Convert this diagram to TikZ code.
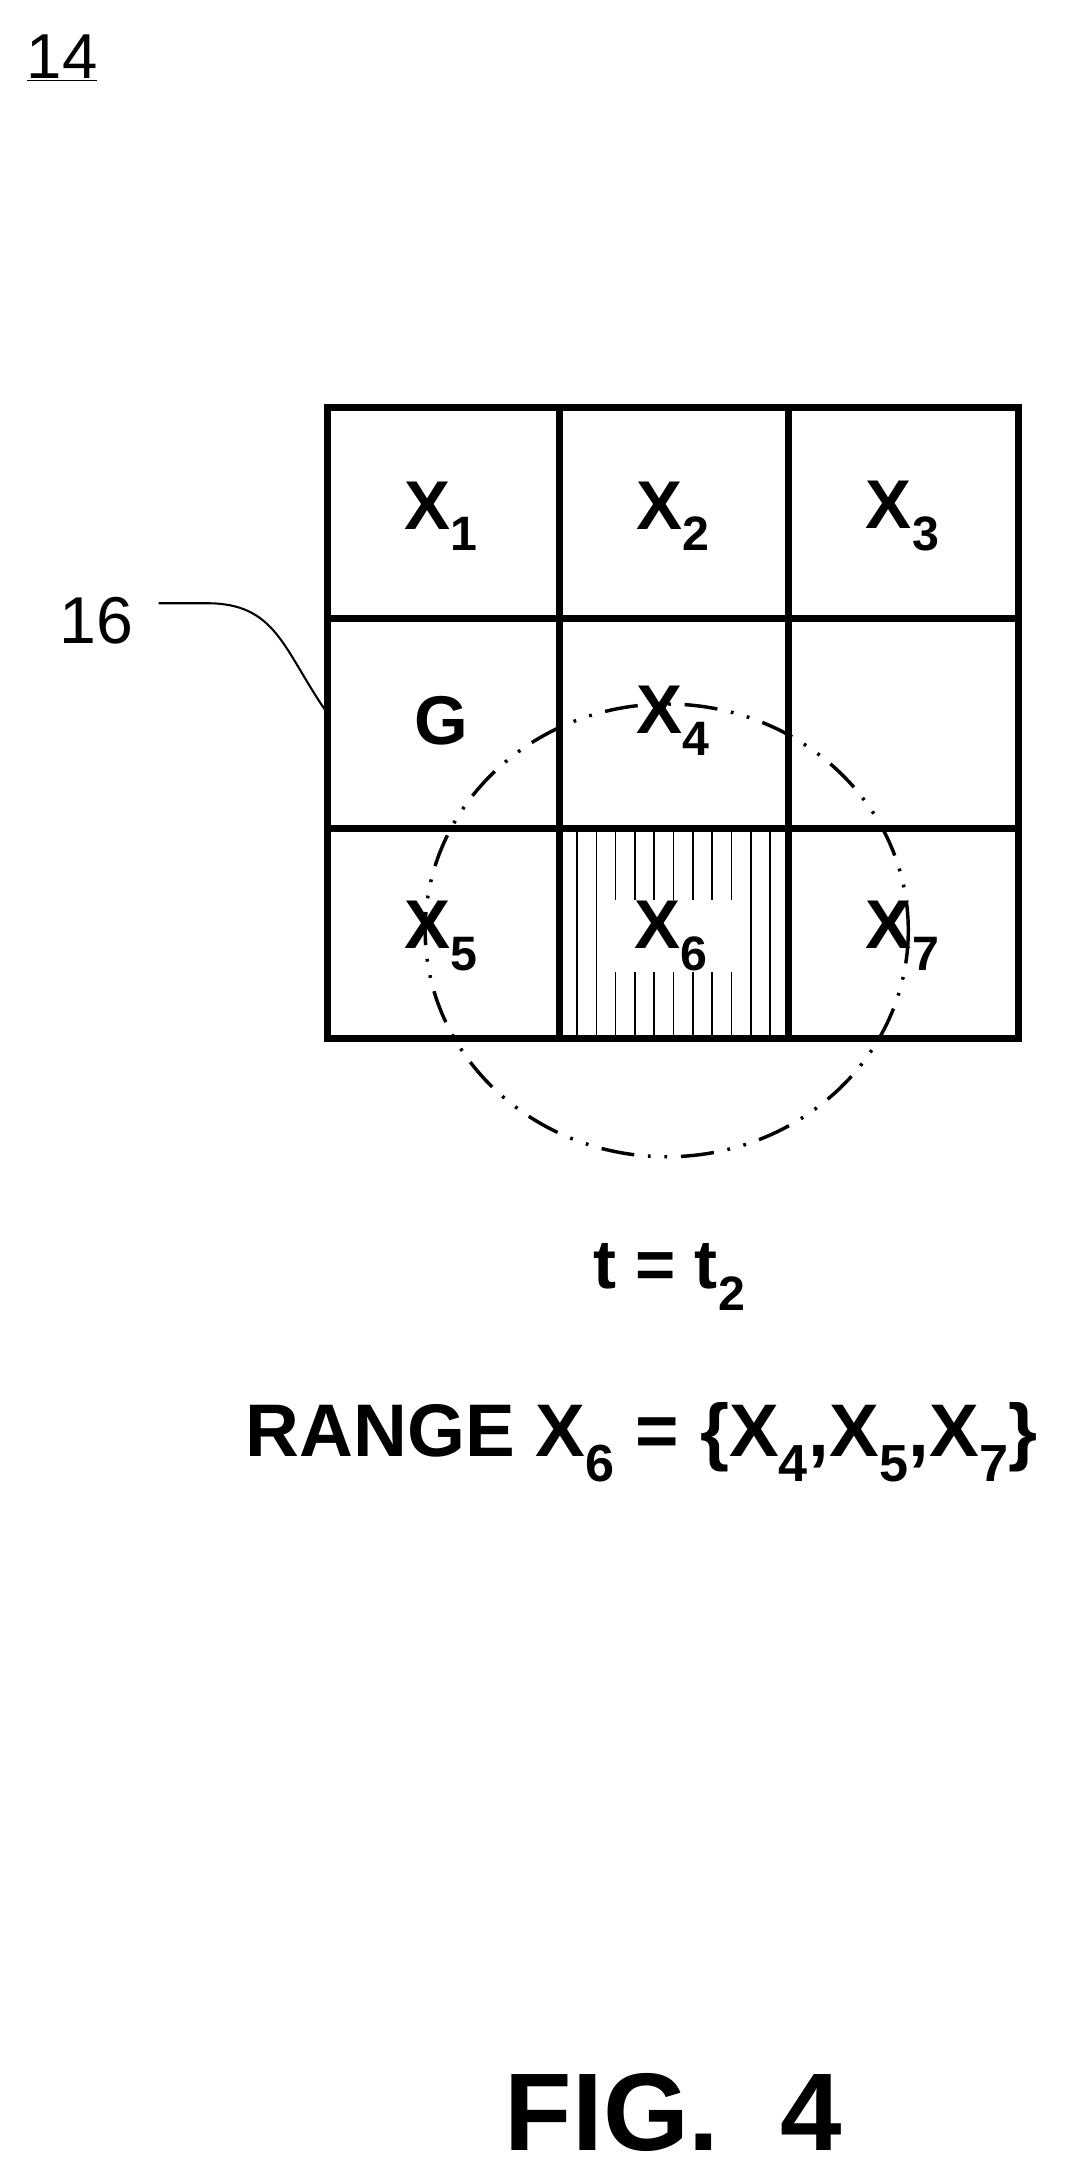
\documentclass[tikz,border=0pt]{standalone}
\usepackage{fontspec}
\setmainfont{Liberation Sans}
\begin{document}
\begin{tikzpicture}[x=1pt,y=-1pt,
  lbl/.style={font=\fontsize{50}{54}\selectfont\bfseries, inner sep=1pt},
  gridline/.style={line width=5pt}]
\useasboundingbox (0,0) rectangle (775,1580);
% hatch in X6
\foreach \xx in {418,432,446,460,474,488,502,516,530,544,558} \draw[line width=1.2pt] (\xx,600) -- (\xx,752);
\node[fill=white, minimum width=92pt, minimum height=52pt] (wb) at (484,678) {};
% grid
\draw[gridline] (237,295) rectangle (738,752);
\foreach \xx in {405,571} \draw[gridline] (\xx,295) -- (\xx,752);
\foreach \yy in {448,600} \draw[gridline] (237,\yy) -- (738,\yy);
% labels
\node[lbl] (x1) at (320,374) {X\textsubscript{1}};
\node[lbl] (x2) at (488,374) {X\textsubscript{2}};
\node[lbl] (x3) at (654,374) {X\textsubscript{3}};
\node[lbl] (g) at (320,522) {G};
\node[lbl] (x4) at (488,522) {X\textsubscript{4}};
\node[lbl] (x5) at (320,678) {X\textsubscript{5}};
\node[lbl] (x6) at (486,678) {X\textsubscript{6}};
\node[lbl] (x7) at (654,678) {X\textsubscript{7}};
% dash-dot-dot circle
\draw[line width=2.5pt, dash pattern=on 24pt off 10pt on 2pt off 10pt on 2pt off 10pt] (483,674) ellipse (175 and 164);
% 14 and 16
\node[font=\fontsize{46}{50}\selectfont, inner sep=0pt] (n14) at (45,42) {\underline{14}};
\node[font=\fontsize{48}{52}\selectfont, inner sep=0pt] (n16) at (70,450) {16};
\coordinate (c16) at (236,515);
\draw[line width=1.5pt] (115,437) -- (150,437) .. controls (200,437) and (205,470) .. (c16);
% texts
\node[font=\fontsize{50}{54}\selectfont\bfseries] (t) at (485,925) {t = t\textsubscript{2}};
\node[font=\fontsize{54}{58}\selectfont\bfseries] (rng) at (465,1045) {RANGE X\textsubscript{6} = \{X\textsubscript{4},X\textsubscript{5},X\textsubscript{7}\}};
\node[font=\fontsize{80}{84}\selectfont\bfseries] (fig) at (488,1530) {FIG.\ \ 4};
\end{tikzpicture}
\end{document}
